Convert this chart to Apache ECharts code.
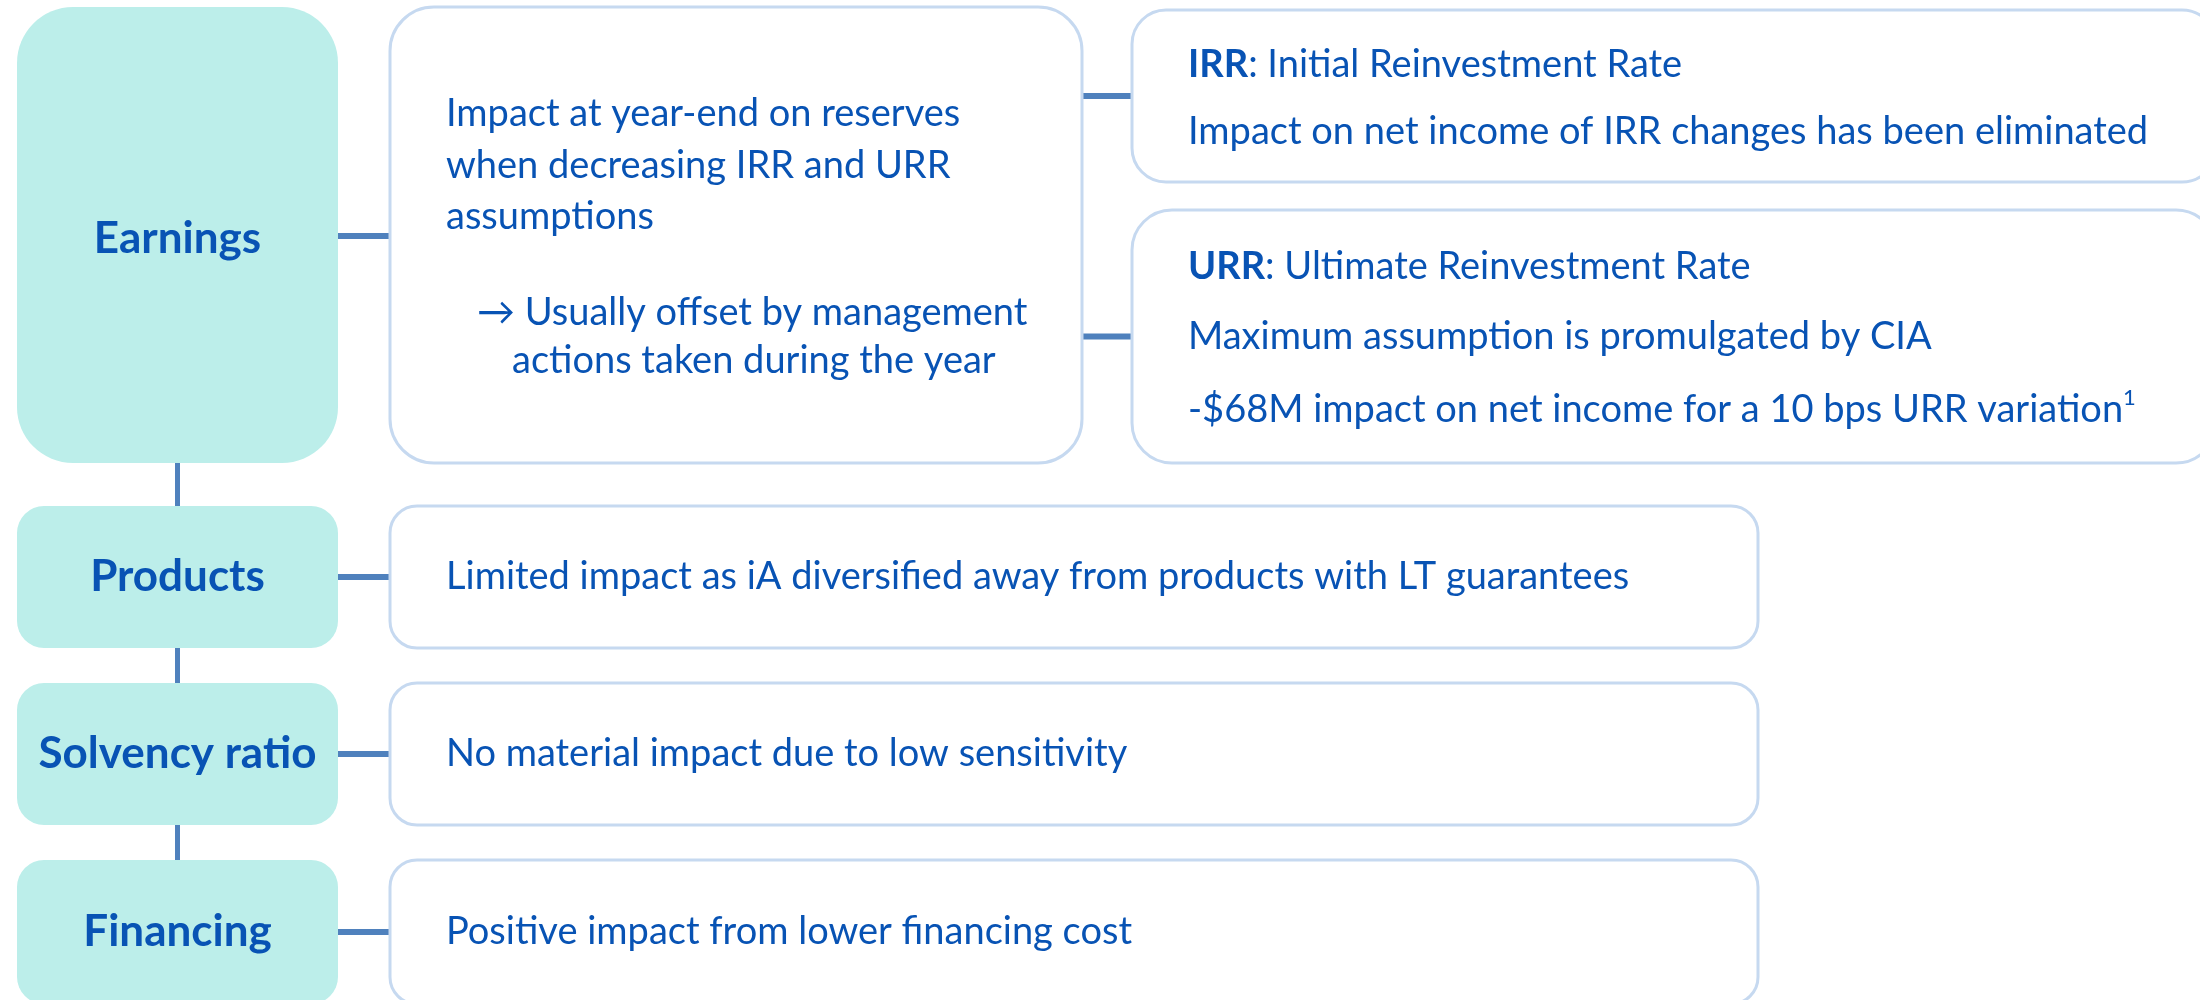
<!DOCTYPE html>
<html>
<head>
<meta charset="utf-8">
<script src="https://cdn.jsdelivr.net/npm/echarts@6/dist/echarts.min.js"></script>
<style>
  html, body { margin: 0; padding: 0; background: #fff; }
  #chart { width: 2200px; height: 1000px; }
</style>
</head>
<body>
<div id="chart"></div>
<script>
// 文本数据
const categories = ['Earnings', 'Products', 'Solvency ratio', 'Financing']
const impactText = [
  ['Impact at year-end on reserves', 'when decreasing IRR and URR', 'assumptions'],
  ['Limited impact as iA diversified away from products with LT guarantees'],
  ['No material impact due to low sensitivity'],
  ['Positive impact from lower financing cost']
]
const earningsNote = ['\u2192 Usually offset by management', 'actions taken during the year']
const rateTerms = ['IRR', 'URR']
const rateNames = ['Initial Reinvestment Rate', 'Ultimate Reinvestment Rate']
const rateNotes = [
  ['Impact on net income of IRR changes has been eliminated'],
  ['Maximum assumption is promulgated by CIA', '-$68M impact on net income for a 10 bps URR variation']
]
const footnoteMarks = ['', '1']

// layout (axis units = px)
const L = {
  labelX: [17, 338],
  detailX: [390, 1082],
  wideRight: 1758,
  rateX: [1132, 2216],
  rows: [[7, 463], [506, 648], [683, 825], [860, 1004]],
  rateRows: [[10, 182], [210, 463]],
  textX: 446,
  noteX: [477, 512],
  impactY: [114, 166, 217],
  noteY: [313, 361],
  rateTextX: 1188,
  rateLineY: [[65, 132], [267, 337, 410]]
}

const AQUA = '#BCEEEA'
const BLUE = '#0853B4'
const BORDER = '#C6D9F0'
const LINK = '#4F81BD'
const FONT = 'Lato, "Noto Sans", "DejaVu Sans", sans-serif'
const BODY = 38

const txt = (x, y, text, extra) => ({
  type: 'text',
  style: Object.assign({
    x, y, text,
    fill: BLUE, fontSize: BODY, fontFamily: FONT,
    align: 'left', verticalAlign: 'middle'
  }, extra || {})
})

const rectBetween = (api, x0, y0, x1, y1) => {
  const p0 = api.coord([x0, y0])
  const p1 = api.coord([x1, y1])
  return { x: p0[0], y: p0[1], width: p1[0] - p0[0], height: p1[1] - p0[1] }
}

const chart = echarts.init(document.getElementById('chart'))

chart.setOption({
  animation: false,
  grid: { left: 0, right: 0, top: 0, bottom: 0 },
  xAxis: { type: 'value', min: 0, max: 2200, show: false },
  yAxis: { type: 'value', min: 0, max: 1000, inverse: true, show: false },
  series: [
    // connectors
    {
      type: 'custom',
      z: 1,
      data: categories.map((c, i) => [i]),
      renderItem: (params, api) => {
        const i = params.dataIndex
        const [y0, y1] = L.rows[i]
        const yc = (i === 0 ? 236 : (y0 + y1) / 2)
        const a = api.coord([L.labelX[1], yc])
        const b = api.coord([L.detailX[0], yc])
        const children = [{
          type: 'line', shape: { x1: a[0], y1: a[1], x2: b[0], y2: b[1] },
          style: { stroke: LINK, lineWidth: 6 }
        }]
        if (i < categories.length - 1) {
          const cx = (L.labelX[0] + L.labelX[1]) / 2
          const v0 = api.coord([cx, y1])
          const v1 = api.coord([cx, L.rows[i + 1][0]])
          children.push({
            type: 'line', shape: { x1: v0[0], y1: v0[1], x2: v1[0], y2: v1[1] },
            style: { stroke: LINK, lineWidth: 5 }
          })
        }
        if (i === 0) {
          L.rateRows.forEach(([r0, r1]) => {
            const m0 = api.coord([L.detailX[1], (r0 + r1) / 2])
            const m1 = api.coord([L.rateX[0], (r0 + r1) / 2])
            children.push({
              type: 'line', shape: { x1: m0[0], y1: m0[1], x2: m1[0], y2: m1[1] },
              style: { stroke: LINK, lineWidth: 6 }
            })
          })
        }
        return { type: 'group', children }
      }
    },
    // category boxes
    {
      type: 'custom',
      z: 2,
      data: categories.map((c, i) => [i]),
      renderItem: (params, api) => {
        const i = params.dataIndex
        const [y0, y1] = L.rows[i]
        const s = rectBetween(api, L.labelX[0], y0, L.labelX[1], y1)
        s.r = i === 0 ? 56 : 27
        const yc = i === 0 ? 239 : (y0 + y1) / 2
        const c = api.coord([(L.labelX[0] + L.labelX[1]) / 2, yc])
        return {
          type: 'group',
          children: [
            { type: 'rect', shape: s, style: { fill: AQUA } },
            txt(c[0], c[1], categories[i], { align: 'center', fontWeight: 'bold', fontSize: 44 })
          ]
        }
      }
    },
    // impact boxes
    {
      type: 'custom',
      z: 2,
      data: impactText.map((t, i) => [i]),
      renderItem: (params, api) => {
        const i = params.dataIndex
        const [y0, y1] = L.rows[i]
        const right = i === 0 ? L.detailX[1] : L.wideRight
        const s = rectBetween(api, L.detailX[0], y0, right, y1)
        s.r = i === 0 ? 44 : 27
        const children = [
          { type: 'rect', shape: s, style: { fill: '#fff', stroke: BORDER, lineWidth: 3 } }
        ]
        if (i === 0) {
          impactText[0].forEach((line, k) => {
            const p = api.coord([L.textX, L.impactY[k]])
            children.push(txt(p[0], p[1], line))
          })
          earningsNote.forEach((line, k) => {
            const p = api.coord([L.noteX[k], L.noteY[k]])
            children.push(txt(p[0], p[1], line))
          })
        } else {
          const p = api.coord([L.textX, (y0 + y1) / 2])
          children.push(txt(p[0], p[1], impactText[i][0]))
        }
        return { type: 'group', children }
      }
    },
    // rate boxes
    {
      type: 'custom',
      z: 2,
      data: rateTerms.map((t, i) => [i]),
      renderItem: (params, api) => {
        const i = params.dataIndex
        const [y0, y1] = L.rateRows[i]
        const s = rectBetween(api, L.rateX[0], y0, L.rateX[1], y1)
        s.r = i === 0 ? 34 : 40
        const base = { fill: BLUE, fontSize: BODY, fontFamily: FONT }
        const lines = ['{b|' + rateTerms[i] + '}{n|: ' + rateNames[i] + '}']
          .concat(rateNotes[i].map((n, k) =>
            (k === rateNotes[i].length - 1 && footnoteMarks[i])
              ? '{n|' + n + '}{sup|' + footnoteMarks[i] + '}'
              : '{n|' + n + '}'))
        const children = [
          { type: 'rect', shape: s, style: { fill: '#fff', stroke: BORDER, lineWidth: 3 } }
        ]
        lines.forEach((line, k) => {
          const p = api.coord([L.rateTextX, L.rateLineY[i][k]])
          children.push(txt(p[0], p[1], line, {
            rich: {
              b: Object.assign({}, base, { fontWeight: 'bold', lineHeight: 46 }),
              n: Object.assign({}, base, { lineHeight: 46 }),
              sup: Object.assign({}, base, { fontSize: 22, lineHeight: 46, verticalAlign: 'top' })
            }
          }))
        })
        return { type: 'group', children }
      }
    }
  ]
})
</script>
</body>
</html>
